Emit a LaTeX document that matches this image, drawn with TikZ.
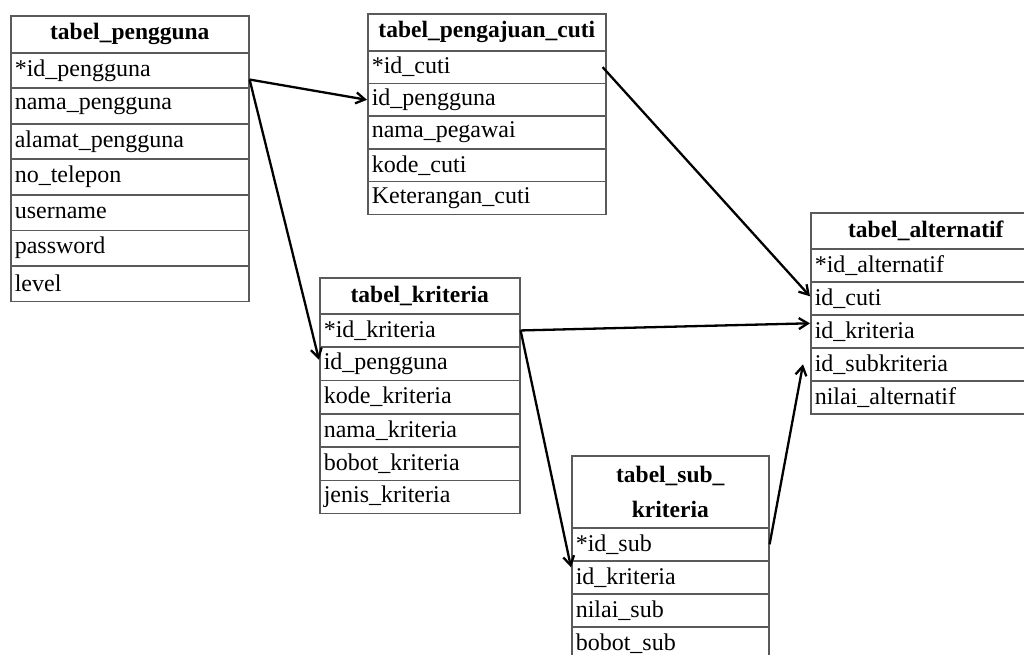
\documentclass[tikz,border=0pt]{standalone}
\usepackage{fontspec}
\setmainfont{Liberation Serif}
\usetikzlibrary{positioning,arrows.meta}
\definecolor{garis}{HTML}{5A5A5A}
\tikzset{
  judul/.style={draw=garis, line width=1.6pt, minimum width=#1, minimum height=37pt,
    inner sep=0pt, align=center, anchor=north west, font=\fontsize{23.5}{35}\selectfont\bfseries},
  baris/.style 2 args={draw=garis, line width=1.6pt, text width=#1, minimum height=#2,
    inner xsep=4pt, inner ysep=0pt, align=left, anchor=north west, font=\fontsize{24}{26}\selectfont},
  relasi/.style={-{Straight Barb[length=9pt,width=11pt]}, line width=2.3pt}
}
\begin{document}
\begin{tikzpicture}[x=1pt, y=-1pt]
\useasboundingbox (0,0) rectangle (1024,655);
% tabel_pengguna
\node[judul=238pt] (pg) at (10,15) {tabel\_pengguna};
\foreach \txt [count=\i] in {*id\_pengguna, nama\_pengguna, alamat\_pengguna, no\_telepon, username, password, level}
    \node[baris={230pt}{35.5pt}] (pg\i) at (10,{52+35.5*(\i-1)}) {\txt};
% tabel_pengajuan_cuti
\node[judul=238pt] (pc) at (367,13) {tabel\_pengajuan\_cuti};
\foreach \txt [count=\i] in {*id\_cuti, id\_pengguna, nama\_pegawai, kode\_cuti, Keterangan\_cuti}
    \node[baris={230pt}{32.7pt}] (pc\i) at (367,{50+32.7*(\i-1)}) {\txt};
% tabel_kriteria
\node[judul=200pt, minimum height=36pt] (kr) at (319,277) {tabel\_kriteria};
\foreach \txt [count=\i] in {*id\_kriteria, id\_pengguna, kode\_kriteria, nama\_kriteria, bobot\_kriteria, jenis\_kriteria}
    \node[baris={192pt}{33.3pt}] (kr\i) at (319,{313+33.3*(\i-1)}) {\txt};
% tabel_alternatif
\node[judul=230pt, minimum height=36pt] (al) at (810,212) {tabel\_alternatif};
\foreach \txt [count=\i] in {*id\_alternatif, id\_cuti, id\_kriteria, id\_subkriteria, nilai\_alternatif}
    \node[baris={222pt}{33pt}] (al\i) at (810,{248+33*(\i-1)}) {\txt};
% tabel_sub_kriteria
\node[judul=197pt, minimum height=72pt] (sb) at (571,455) {tabel\_sub\_\\kriteria};
\foreach \txt [count=\i] in {*id\_sub, id\_kriteria, nilai\_sub, bobot\_sub}
    \node[baris={189pt}{33pt}] (sb\i) at (571,{527+33*(\i-1)}) {\txt};
% relasi
\draw[relasi] ([yshift=-9pt]pg1.east) -- (pc2.west);
\draw[relasi] ([yshift=-9pt]pg1.east) -- ([yshift=4pt]kr2.west);
\draw[relasi] ([xshift=-4pt]pc1.east) -- ([yshift=2pt]al2.west);
\draw[relasi] (kr1.east) -- ([yshift=8pt]al3.west);
\draw[relasi] (kr1.east) -- ([yshift=10pt]sb2.west);
\draw[relasi] (sb1.east) -- ([xshift=-7pt]al4.west);
\end{tikzpicture}
\end{document}
